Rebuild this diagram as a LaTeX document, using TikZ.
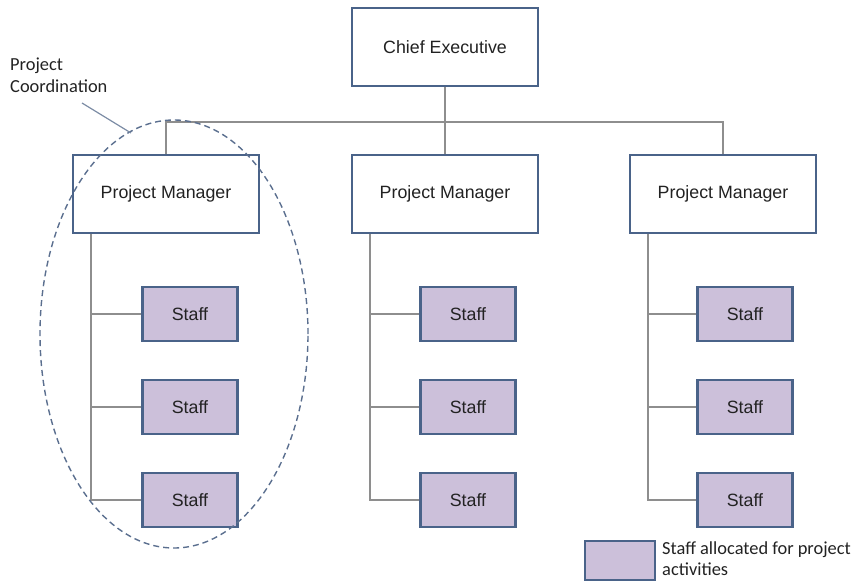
\documentclass[tikz,border=0pt]{standalone}
\usepackage{fontspec}
\setmainfont{Liberation Sans}
\newfontfamily\calib{Carlito}
\usepackage{tikz}
\definecolor{boxline}{HTML}{4A6389}
\definecolor{stafffill}{HTML}{CCC0DA}
\definecolor{linkgrey}{HTML}{8E8E8E}
\definecolor{ovalline}{HTML}{5B6F8F}
\definecolor{textgrey}{HTML}{222222}
\tikzset{
  box/.style = {draw=boxline, line width=2.4pt, fill=white, minimum width=186pt, minimum height=78pt, inner sep=0pt, text=textgrey, font=\fontsize{17.8}{21}\selectfont},
  staffbox/.style = {box, fill=stafffill, minimum width=95pt, minimum height=54pt},
  link/.style = {draw=linkgrey, line width=1.4pt},
  note/.style = {text=textgrey, font=\calib\fontsize{18.4}{22}\selectfont, align=left, inner sep=0pt}
}

\begin{document}
\begin{tikzpicture}[x=1pt, y=-1pt]

\useasboundingbox (0,0) rectangle (854,581);

% top of the chart
\node[box] (ce) at (445,47) {Chief Executive};
\node[box] (pmA) at (166,194) {Project Manager};
\node[box] (pmB) at (445,194) {Project Manager};
\node[box] (pmC) at (723,194) {Project Manager};

% staff
\node[staffbox] (sA1) at (190,314) {Staff};
\node[staffbox] (sA2) at (190,407) {Staff};
\node[staffbox] (sA3) at (190,500) {Staff};
\node[staffbox] (sB1) at (468,314) {Staff};
\node[staffbox] (sB2) at (468,407) {Staff};
\node[staffbox] (sB3) at (468,500) {Staff};
\node[staffbox] (sC1) at (745,314) {Staff};
\node[staffbox] (sC2) at (745,407) {Staff};
\node[staffbox] (sC3) at (745,500) {Staff};

% lines
\coordinate (busA) at (166,122);
\coordinate (busC) at (723,122);
\draw[link] (ce) -- (pmB);
\draw[link] (pmA.north) -- (busA) -- (busC) -- (pmC.north);

\coordinate (tA) at (91,500);
\coordinate (tB) at (370,500);
\coordinate (tC) at (648,500);
\draw[link] (sA3.west) -- (tA) -- (tA |- pmA.south);
\draw[link] (sA1.west) -- (sA1.west -| tA);
\draw[link] (sA2.west) -- (sA2.west -| tA);
\draw[link] (sB3.west) -- (tB) -- (tB |- pmB.south);
\draw[link] (sB1.west) -- (sB1.west -| tB);
\draw[link] (sB2.west) -- (sB2.west -| tB);
\draw[link] (sC3.west) -- (tC) -- (tC |- pmC.south);
\draw[link] (sC1.west) -- (sC1.west -| tC);
\draw[link] (sC2.west) -- (sC2.west -| tC);

% project coordination
\draw[ovalline, line width=1.4pt, dash pattern=on 6pt off 4pt] (174,334) ellipse [x radius=134pt, y radius=214pt];
\node[note, anchor=north west] (pc) at (10,58) {Project\\Coordination};
\coordinate (pcend) at (131,133);
\draw[ovalline!80, line width=1.2pt] (82,103) -- (pcend);

% legend
\node[staffbox, line width=2pt, minimum width=70pt, minimum height=39pt] (key) at (620,560) {};
\node[note, anchor=west, font=\calib\fontsize{18.4}{21}\selectfont] (keytext) at (662,559) {Staff allocated for project\\activities};

\end{tikzpicture}
\end{document}
